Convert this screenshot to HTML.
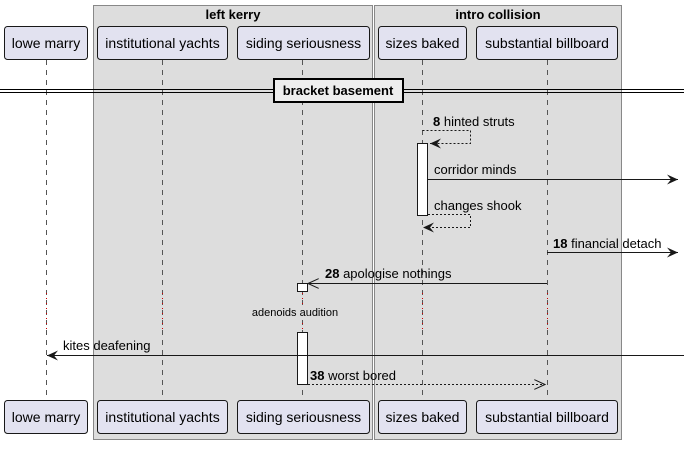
<!DOCTYPE html>
<html><head><meta charset="utf-8"><style>
body{margin:0;background:#fff}
text{font-family:"Liberation Sans",sans-serif;font-size:13px;fill:#000}
</style></head><body>
<svg width="684" height="444" viewBox="0 0 684 444">
<defs>
<marker id="fa" markerWidth="12" markerHeight="10" refX="11" refY="5" orient="auto" markerUnits="userSpaceOnUse"><path d="M0,0 L11,5 L0,10 L4,5 Z" fill="#181818"/></marker>
<marker id="oa" markerWidth="12" markerHeight="10" refX="11" refY="5" orient="auto" markerUnits="userSpaceOnUse"><path d="M0,0 L11,5 L0,10" fill="none" stroke="#181818"/></marker>
</defs>
<g>
<rect x="93.5" y="5.5" width="279" height="434" fill="#ddd" stroke="#888"/>
<text x="233" y="19" text-anchor="middle" font-weight="bold">left kerry</text></g>
<g>
<rect x="374.5" y="5.5" width="247" height="434" fill="#ddd" stroke="#888"/>
<text x="498" y="19" text-anchor="middle" font-weight="bold">intro collision</text></g>
<g stroke="#555" stroke-dasharray="5,5">
<line x1="46.5" y1="60" x2="46.5" y2="400"/>
<line x1="162.5" y1="60" x2="162.5" y2="400"/>
<line x1="302.5" y1="60" x2="302.5" y2="400"/>
<line x1="422.5" y1="60" x2="422.5" y2="400"/>
<line x1="547.5" y1="60" x2="547.5" y2="400"/>
</g>
<g id="heads"></g>
<g>
<line x1="0" y1="89.5" x2="684" y2="89.5" stroke="#000"/>
<line x1="0" y1="92.5" x2="684" y2="92.5" stroke="#000"/>
<rect x="274" y="79" width="129" height="23" fill="#eee" stroke="#000" stroke-width="2"/>
<text x="338" y="95" text-anchor="middle" font-weight="bold">bracket basement</text></g>
<g fill="#fff" stroke="#181818">
<rect x="417.5" y="143.5" width="10" height="72"/>
<rect x="297.5" y="283.5" width="10" height="8"/>
<rect x="297.5" y="332.5" width="10" height="52"/>
</g>
<g stroke="#c00" stroke-dasharray="1,4">
<line x1="46.5" y1="293" x2="46.5" y2="332"/><line x1="162.5" y1="293" x2="162.5" y2="332"/>
<line x1="302.5" y1="293" x2="302.5" y2="332"/><line x1="422.5" y1="293" x2="422.5" y2="332"/>
<line x1="547.5" y1="293" x2="547.5" y2="332"/></g>
<rect x="250" y="305" width="90" height="14" fill="#ddd"/>
<text x="295" y="316" text-anchor="middle" style="font-size:11px">adenoids audition</text>
<g stroke="#181818" fill="none">
<path d="M422.5,130.5 H470.5 V143.5 H430" stroke-dasharray="2,2" marker-end="url(#fa)"/>
<line x1="428" y1="179.5" x2="678" y2="179.5" marker-end="url(#fa)"/>
<path d="M428,214.5 H470.5 V227.5 H423" stroke-dasharray="2,2" marker-end="url(#fa)"/>
<line x1="547" y1="252.5" x2="678" y2="252.5" marker-end="url(#fa)"/>
<line x1="547" y1="283.5" x2="308" y2="283.5" marker-end="url(#oa)"/>
<line x1="684" y1="355.5" x2="47" y2="355.5" marker-end="url(#fa)"/>
<line x1="308" y1="384.5" x2="545" y2="384.5" stroke-dasharray="2,2" marker-end="url(#oa)"/>
</g>
<text x="433" y="126"><tspan font-weight="bold">8</tspan> hinted struts</text>
<text x="434" y="174">corridor minds</text>
<text x="434" y="210">changes shook</text>
<text x="553" y="248"><tspan font-weight="bold">18</tspan> financial detach</text>
<text x="325" y="278"><tspan font-weight="bold">28</tspan> apologise nothings</text>
<text x="63" y="350">kites deafening</text>
<text x="310" y="380"><tspan font-weight="bold">38</tspan> worst bored</text>
</svg>
<script>
const names=["lowe marry","institutional yachts","siding seriousness","sizes baked","substantial billboard"];
const xs=[[4,83],[97,130],[237,132],[378,88],[476,141]];
const g=document.getElementById('heads');
const ns="http://www.w3.org/2000/svg";
[26,400].forEach((y,k)=>names.forEach((n,i)=>{
 const grp=document.createElementNS(ns,'g');
 
 
 const r=document.createElementNS(ns,'rect');
 r.setAttribute('x',xs[i][0]+0.5);r.setAttribute('y',y+0.5);r.setAttribute('width',xs[i][1]);r.setAttribute('height',33);
 r.setAttribute('rx',3);r.setAttribute('fill','#e2e2f0');r.setAttribute('stroke','#181818');
 const t=document.createElementNS(ns,'text');
 t.setAttribute('x',xs[i][0]+xs[i][1]/2+0.5);t.setAttribute('y',y+22);t.setAttribute('text-anchor','middle');
 t.style.fontSize='14px';t.textContent=n;
 grp.appendChild(r);grp.appendChild(t);g.appendChild(grp);
}));
</script>
</body></html>
